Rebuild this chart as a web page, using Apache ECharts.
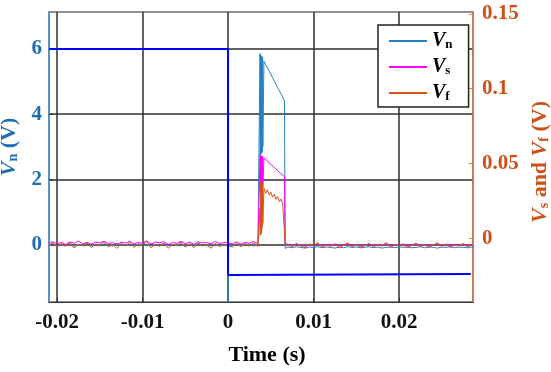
<!DOCTYPE html>
<html>
<head>
<meta charset="utf-8">
<script src="https://cdn.jsdelivr.net/npm/echarts@6/dist/echarts.min.js"></script>
<style>
html,body{margin:0;padding:0;background:#fff;}
#chart{width:551px;height:372px;}
</style>
</head>
<body>
<div id="chart"></div>
<script>
// ---- time segments (s) ----
const timePre = [-0.0209,-0.0205,-0.0200,-0.0195,-0.0190,-0.0185,-0.0180,-0.0175,-0.0170,-0.0165,
  -0.0160,-0.0155,-0.0150,-0.0145,-0.0140,-0.0135,-0.0130,-0.0125,-0.0120,-0.0115,
  -0.0110,-0.0105,-0.0100,-0.0095,-0.0090,-0.0085,-0.0080,-0.0075,-0.0070,-0.0065,
  -0.0060,-0.0055,-0.0050,-0.0045,-0.0040,-0.0035,-0.0030,-0.0025,-0.0020,-0.0015,
  -0.0010,-0.0005,-0.00002,0,0.00002,0.0005,0.0010,0.0015,0.0020,0.0025,
  0.0030,0.0035,0.0037];
const timePulse = [0.00374,0.00377,0.00380,0.00383,0.00386,0.00389,0.00392,0.00395,0.00398,0.00401,0.00404,0.00407];
const timeDecay = [0.0042,0.0044,0.0046,0.0048,0.0050,0.0052,0.0054,0.0056,0.0058,0.0060,0.0062,0.0064,0.0066,0.00668];
const timePost = [0.0070,0.0075,0.0080,0.0085,0.0090,0.0095,0.0100,0.0105,0.0110,0.0115,
  0.0120,0.0125,0.0130,0.0135,0.0140,0.0145,0.0150,0.0155,0.0160,0.0165,
  0.0170,0.0175,0.0180,0.0185,0.0190,0.0195,0.0200,0.0205,0.0210,0.0215,
  0.0220,0.0225,0.0230,0.0235,0.0240,0.0245,0.0250,0.0255,0.0260,0.0265,
  0.0270,0.0275,0.0280,0.0285,0.0287];

// ---- Vn (V), left axis ----
const vnPre = [-0.02,0.03,-0.04,0.01,-0.03,0.02,-0.05,0.00,-0.02,0.04,
  -0.03,0.01,-0.04,0.02,-0.01,-0.05,0.03,-0.02,0.00,-0.04,
  0.02,-0.03,0.01,-0.05,0.02,-0.01,-0.03,0.03,-0.04,0.00,
  -0.02,0.02,-0.05,0.01,-0.03,0.03,-0.02,-0.04,0.01,-0.01,
  0.02,-0.03,-0.02,-2.6,-0.05,-0.03,0.01,-0.04,0.02,-0.02,
  0.00,-0.03,-0.02];
const vnPulse = [5.86,2.75,5.83,2.80,5.80,2.78,5.78,2.82,5.76,2.85,5.74,3.00];
const vnDecay = [5.63,5.53,5.43,5.33,5.23,5.13,5.02,4.92,4.82,4.72,4.62,4.52,4.41,-0.12];
const vnPost = [-0.08,-0.10,-0.07,-0.09,-0.11,-0.08,-0.09,-0.07,-0.10,-0.08,
  -0.09,-0.11,-0.08,-0.10,-0.07,-0.09,-0.08,-0.10,-0.09,-0.07,
  -0.10,-0.08,-0.11,-0.09,-0.08,-0.10,-0.07,-0.09,-0.08,-0.10,
  -0.09,-0.07,-0.10,-0.08,-0.09,-0.11,-0.08,-0.09,-0.07,-0.10,
  -0.08,-0.09,-0.10,-0.08,-0.09];

// ---- Vs (V), right axis ----
const vsPre = [-0.0030,-0.0022,-0.0038,-0.0027,-0.0041,-0.0025,-0.0033,-0.0020,-0.0036,-0.0028,
  -0.0040,-0.0024,-0.0031,-0.0019,-0.0035,-0.0029,-0.0042,-0.0026,-0.0032,-0.0021,
  -0.0037,-0.0027,-0.0034,-0.0018,-0.0039,-0.0025,-0.0030,-0.0022,-0.0041,-0.0028,
  -0.0033,-0.0020,-0.0036,-0.0026,-0.0040,-0.0023,-0.0031,-0.0027,-0.0038,-0.0021,
  -0.0034,-0.0029,-0.0030,-0.0032,-0.0028,-0.0036,-0.0024,-0.0039,-0.0027,-0.0033,
  -0.0022,-0.0035,-0.0030];
const vsPulse = [0.0558,0.0310,0.0555,0.0320,0.0553,0.0310,0.0550,0.0330,0.0548,0.0320,0.0546,0.0340];
const vsDecay = [0.0538,0.0527,0.0517,0.0506,0.0495,0.0485,0.0474,0.0464,0.0453,0.0443,0.0432,0.0421,0.0411,-0.0035];
const vsPost = [-0.0042,-0.0050,-0.0038,-0.0046,-0.0053,-0.0040,-0.0048,-0.0036,-0.0051,-0.0043,
  -0.0047,-0.0039,-0.0052,-0.0044,-0.0037,-0.0049,-0.0041,-0.0054,-0.0045,-0.0038,
  -0.0050,-0.0042,-0.0047,-0.0036,-0.0051,-0.0043,-0.0048,-0.0040,-0.0053,-0.0044,
  -0.0039,-0.0049,-0.0042,-0.0052,-0.0045,-0.0037,-0.0048,-0.0041,-0.0050,-0.0043,
  -0.0046,-0.0039,-0.0051,-0.0044,-0.0047];

// ---- Vf (V), right axis ----
const vfPre = [-0.0045,-0.0030,-0.0060,-0.0035,-0.0055,-0.0025,-0.0065,-0.0040,-0.0050,-0.0028,
  -0.0062,-0.0038,-0.0047,-0.0022,-0.0058,-0.0041,-0.0068,-0.0033,-0.0052,-0.0027,
  -0.0061,-0.0036,-0.0049,-0.0020,-0.0064,-0.0039,-0.0054,-0.0031,-0.0066,-0.0042,
  -0.0048,-0.0026,-0.0059,-0.0037,-0.0063,-0.0029,-0.0051,-0.0043,-0.0067,-0.0034,
  -0.0056,-0.0040,-0.0046,-0.0050,-0.0038,-0.0060,-0.0032,-0.0057,-0.0036,-0.0053,
  -0.0030,-0.0055,-0.0045];
const vfPulse = [0.0200,0.0020,0.0380,0.0040,0.0370,0.0030,0.0360,0.0060,0.0370,0.0080,0.0350,0.0100];
const vfDecay = [0.0335,0.0300,0.0325,0.0290,0.0310,0.0275,0.0295,0.0260,0.0280,0.0245,0.0262,0.0228,0.0240,-0.0040];
const vfPost = [-0.0040,-0.0058,-0.0033,-0.0052,-0.0064,-0.0037,-0.0049,-0.0029,-0.0061,-0.0043,
  -0.0055,-0.0035,-0.0066,-0.0046,-0.0031,-0.0057,-0.0041,-0.0063,-0.0048,-0.0034,
  -0.0059,-0.0039,-0.0054,-0.0027,-0.0062,-0.0044,-0.0050,-0.0036,-0.0065,-0.0047,
  -0.0032,-0.0056,-0.0042,-0.0060,-0.0045,-0.0030,-0.0053,-0.0038,-0.0061,-0.0044,
  -0.0051,-0.0035,-0.0058,-0.0042,-0.0048];

// ---- gate signal (V), left axis ----
const gateTime = [-0.0209, 0, 0, 0.0284];
const gateValue = [6.0, 6.0, -0.94, -0.91];

// ---- ticks ----
const xTicks = [-0.02, -0.01, 0, 0.01, 0.02];
const xTickLabels = ['-0.02', '-0.01', '0', '0.01', '0.02'];
const leftTicks = [0, 2, 4, 6];
const rightTicks = [0, 0.05, 0.1, 0.15];
const rightTickLabels = ['0', '0.05', '0.1', '0.15'];

function zip(ts, vs) { return ts.map((t, i) => [t, vs[i]]); }
const timeAll = timePre.concat(timePulse, timeDecay, timePost);
const vnData = zip(timeAll, vnPre.concat(vnPulse, vnDecay, vnPost));
const vsData = zip(timeAll, vsPre.concat(vsPulse, vsDecay, vsPost));
const vfData = zip(timeAll, vfPre.concat(vfPulse, vfDecay, vfPost));
const gateData = zip(gateTime, gateValue);

const FONT = 'Liberation Serif';
const blueLbl = '#1f6db3';
const orangeLbl = '#cf4f17';
const gridColor = '#2e2e2e';

const chart = echarts.init(document.getElementById('chart'), null, {renderer: 'canvas'});
chart.setOption({
  animation: false,
  backgroundColor: '#fff',
  grid: {left: 49, right: 78, top: 12, bottom: 70, containLabel: false, outerBoundsMode: 'none',
         show: true, borderColor: '#222', borderWidth: 1.2, backgroundColor: '#fff'},
  legend: {
    orient: 'vertical', left: 378, top: 25,
    padding: [6, 16, 4, 10],
    itemWidth: 38, itemHeight: 20, itemGap: 6,
    backgroundColor: '#fff', borderColor: '#222', borderWidth: 1.5, borderRadius: 0,
    itemStyle: {opacity: 0},
    data: ['Vn', 'Vs', 'Vf'],
    formatter: function (name) { return '{v|V}{s|' + name.slice(1) + '}'; },
    textStyle: {
      rich: {
        v: {fontFamily: FONT, fontStyle: 'italic', fontWeight: 'bold', fontSize: 20, color: '#000', lineHeight: 20},
        s: {fontFamily: FONT, fontWeight: 'bold', fontSize: 13, color: '#000', lineHeight: 12, verticalAlign: 'bottom'}
      }
    }
  },
  xAxis: {
    type: 'value', min: -0.02094, max: 0.02865,
    name: 'Time (s)', nameLocation: 'middle', nameGap: 42,
    nameTextStyle: {fontFamily: FONT, fontWeight: 'bold', fontSize: 22, color: '#000', padding: [0, 0, 0, 12]},
    axisLine: {show: true, onZero: false, lineStyle: {color: '#333', width: 1.2}},
    axisTick: {show: true, inside: true, length: 4, customValues: xTicks, lineStyle: {color: '#333'}},
    axisLabel: {
      customValues: xTicks,
      formatter: function (v) { const i = xTicks.findIndex(t => Math.abs(t - v) < 1e-9); return i >= 0 ? xTickLabels[i] : ''; },
      fontFamily: FONT, fontWeight: 'bold', fontSize: 21, color: '#111', margin: 10
    },
    splitLine: {show: true, lineStyle: {color: gridColor, width: 1.5}}
  },
  yAxis: [
    {
      type: 'value', position: 'left', min: -1.766, max: 7.138,
      name: '{i|V}{s|n}{t| (V)}', nameLocation: 'middle', nameGap: 29, nameRotate: 90,
      nameTextStyle: {
        padding: [0, 0, 0, 20],
        rich: {
          i: {fontFamily: FONT, fontStyle: 'italic', fontWeight: 'bold', fontSize: 22, color: blueLbl},
          s: {fontFamily: FONT, fontWeight: 'bold', fontSize: 14, color: blueLbl, verticalAlign: 'bottom', lineHeight: 14},
          t: {fontFamily: FONT, fontWeight: 'bold', fontSize: 22, color: blueLbl}
        }
      },
      axisLine: {show: true, onZero: false, lineStyle: {color: '#4b9cd8', width: 1.5}},
      axisTick: {show: true, inside: true, length: 4, customValues: leftTicks, lineStyle: {color: '#333'}},
      axisLabel: {customValues: leftTicks, fontFamily: FONT, fontWeight: 'bold', fontSize: 21, color: blueLbl, margin: 7},
      splitLine: {show: true, lineStyle: {color: gridColor, width: 1.5}}
    },
    {
      type: 'value', position: 'right', min: -0.0426, max: 0.1513,
      name: '{i|V}{s|s}{t| and }{i|V}{s|f}{t| (V)}', nameLocation: 'middle', nameGap: 55, nameRotate: 90,
      nameTextStyle: {
        padding: [0, 10, 0, 0],
        rich: {
          i: {fontFamily: FONT, fontStyle: 'italic', fontWeight: 'bold', fontSize: 22, color: orangeLbl},
          s: {fontFamily: FONT, fontWeight: 'bold', fontSize: 14, color: orangeLbl, verticalAlign: 'bottom', lineHeight: 14},
          t: {fontFamily: FONT, fontWeight: 'bold', fontSize: 22, color: orangeLbl}
        }
      },
      axisLine: {show: true, onZero: false, lineStyle: {color: '#e07f4c', width: 1.5}},
      axisTick: {show: true, inside: true, length: 4, customValues: rightTicks, lineStyle: {color: '#e07f4c'}},
      axisLabel: {
        customValues: rightTicks,
        formatter: function (v) { const i = rightTicks.findIndex(t => Math.abs(t - v) < 1e-9); return i >= 0 ? rightTickLabels[i] : ''; },
        fontFamily: FONT, fontWeight: 'bold', fontSize: 21, color: orangeLbl, margin: 9, padding: [6, 0, 0, 0]
      },
      splitLine: {show: false}
    }
  ],
  series: [
    {name: 'Vn', type: 'line', yAxisIndex: 0, data: vnData, symbol: 'none', lineStyle: {color: '#2680c4', width: 1}, itemStyle: {color: '#2680c4'}},
    {name: 'Vs', type: 'line', yAxisIndex: 1, data: vsData, symbol: 'none', lineStyle: {color: '#ff00ff', width: 1}, itemStyle: {color: '#ff00ff'}},
    {name: 'Vf', type: 'line', yAxisIndex: 1, data: vfData, symbol: 'none', lineStyle: {color: '#d95319', width: 1}, itemStyle: {color: '#d95319'}},
    {name: 'gate', type: 'line', yAxisIndex: 0, data: gateData, symbol: 'none', lineStyle: {color: '#0000ff', width: 2}, itemStyle: {color: '#0000ff'}}
  ]
});
</script>
</body>
</html>
